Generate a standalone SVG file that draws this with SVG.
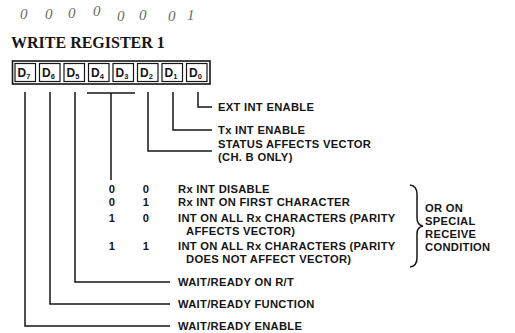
<svg xmlns="http://www.w3.org/2000/svg" width="515" height="333" viewBox="0 0 515 333">
<style>
.t{font-family:"Liberation Sans",Arial,sans-serif;font-weight:bold;font-size:11.2px;letter-spacing:0.3px;fill:#151515}
.hw{font-family:"Liberation Serif",serif;font-style:italic;font-size:15px;fill:#6a6a6a}
.ttl{font-family:"Liberation Serif",serif;font-weight:bold;font-size:16px;fill:#151515}
.cell{fill:none;stroke:#151515;stroke-width:1.2}
.d{font-family:"Liberation Sans",Arial,sans-serif;font-weight:bold;font-size:12px;fill:#151515}
.sub{font-size:7.5px}
.ln{fill:none;stroke:#151515;stroke-width:1.5}
</style>
<rect width="515" height="333" fill="#fff"/>
<g id="handwriting">
<text class="hw" x="20" y="19">0</text>
<text class="hw" x="45" y="19">0</text>
<text class="hw" x="68" y="18">0</text>
<text class="hw" x="93" y="16">0</text>
<text class="hw" x="117" y="21">0</text>
<text class="hw" x="139" y="20">0</text>
<text class="hw" x="168" y="21">0</text>
<text class="hw" x="187" y="20">1</text>
</g>
<text class="ttl" x="11" y="48">WRITE REGISTER 1</text>
<g id="register">
<rect x="12.5" y="61" width="197.5" height="23" fill="none" stroke="#151515" stroke-width="1.6"/>
<rect class="cell" x="15" y="63.5" width="20.5" height="18"/>
<rect class="cell" x="39.5" y="63.5" width="20.5" height="18"/>
<rect class="cell" x="64" y="63.5" width="20.5" height="18"/>
<rect class="cell" x="88.5" y="63.5" width="20.5" height="18"/>
<rect class="cell" x="113" y="63.5" width="20.5" height="18"/>
<rect class="cell" x="137.5" y="63.5" width="20.5" height="18"/>
<rect class="cell" x="162" y="63.5" width="20.5" height="18"/>
<rect class="cell" x="186.5" y="63.5" width="20.5" height="18"/>
<text class="d" x="17.5" y="77">D<tspan class="sub" dy="2">7</tspan></text>
<text class="d" x="42" y="77">D<tspan class="sub" dy="2">6</tspan></text>
<text class="d" x="66.5" y="77">D<tspan class="sub" dy="2">5</tspan></text>
<text class="d" x="91" y="77">D<tspan class="sub" dy="2">4</tspan></text>
<text class="d" x="115.5" y="77">D<tspan class="sub" dy="2">3</tspan></text>
<text class="d" x="140" y="77">D<tspan class="sub" dy="2">2</tspan></text>
<text class="d" x="164.5" y="77">D<tspan class="sub" dy="2">1</tspan></text>
<text class="d" x="189" y="77">D<tspan class="sub" dy="2">0</tspan></text>
</g>
<g id="connectors">
<path class="ln" d="M198 92V107H212"/>
<path class="ln" d="M173 92V130H212"/>
<path class="ln" d="M148 92V151H212"/>
<path class="ln" d="M87 93H135M111 93V180"/>
<path class="ln" d="M75 92V282H170"/>
<path class="ln" d="M50 92V304H170"/>
<path class="ln" d="M25 92V326H170"/>
</g>
<g id="d0"><text class="t" x="218" y="111">EXT INT ENABLE</text></g>
<g id="d1"><text class="t" x="218" y="134">Tx INT ENABLE</text></g>
<g id="d2"><text class="t" x="218" y="148">STATUS AFFECTS VECTOR</text><text class="t" x="218" y="161">(CH. B ONLY)</text></g>
<g id="d4d3">
<text class="t" x="112" y="193" text-anchor="middle">0</text><text class="t" x="146" y="193" text-anchor="middle">0</text>
<text class="t" x="178" y="193">Rx INT DISABLE</text>
<text class="t" x="112" y="206" text-anchor="middle">0</text><text class="t" x="146" y="206" text-anchor="middle">1</text>
<text class="t" x="178" y="206">Rx INT ON FIRST CHARACTER</text>
<text class="t" x="112" y="222" text-anchor="middle">1</text><text class="t" x="146" y="222" text-anchor="middle">0</text>
<text class="t" x="178" y="222">INT ON ALL Rx CHARACTERS (PARITY</text>
<text class="t" x="186" y="235">AFFECTS VECTOR)</text>
<text class="t" x="112" y="250" text-anchor="middle">1</text><text class="t" x="146" y="250" text-anchor="middle">1</text>
<text class="t" x="178" y="250">INT ON ALL Rx CHARACTERS (PARITY</text>
<text class="t" x="186" y="263">DOES NOT AFFECT VECTOR)</text>
<path class="ln" d="M410 185Q417 186 417 194V218Q417 225 423 226Q417 227 417 234V258Q417 266 410 267" stroke-width="1.4"/>
<text class="t" x="425" y="212">OR ON</text>
<text class="t" x="425" y="225">SPECIAL</text>
<text class="t" x="425" y="238">RECEIVE</text>
<text class="t" x="425" y="251">CONDITION</text>
</g>
<g id="d5"><text class="t" x="178" y="286">WAIT/READY ON R/T</text></g>
<g id="d6"><text class="t" x="178" y="308">WAIT/READY FUNCTION</text></g>
<g id="d7"><text class="t" x="178" y="330">WAIT/READY ENABLE</text></g>
</svg>
